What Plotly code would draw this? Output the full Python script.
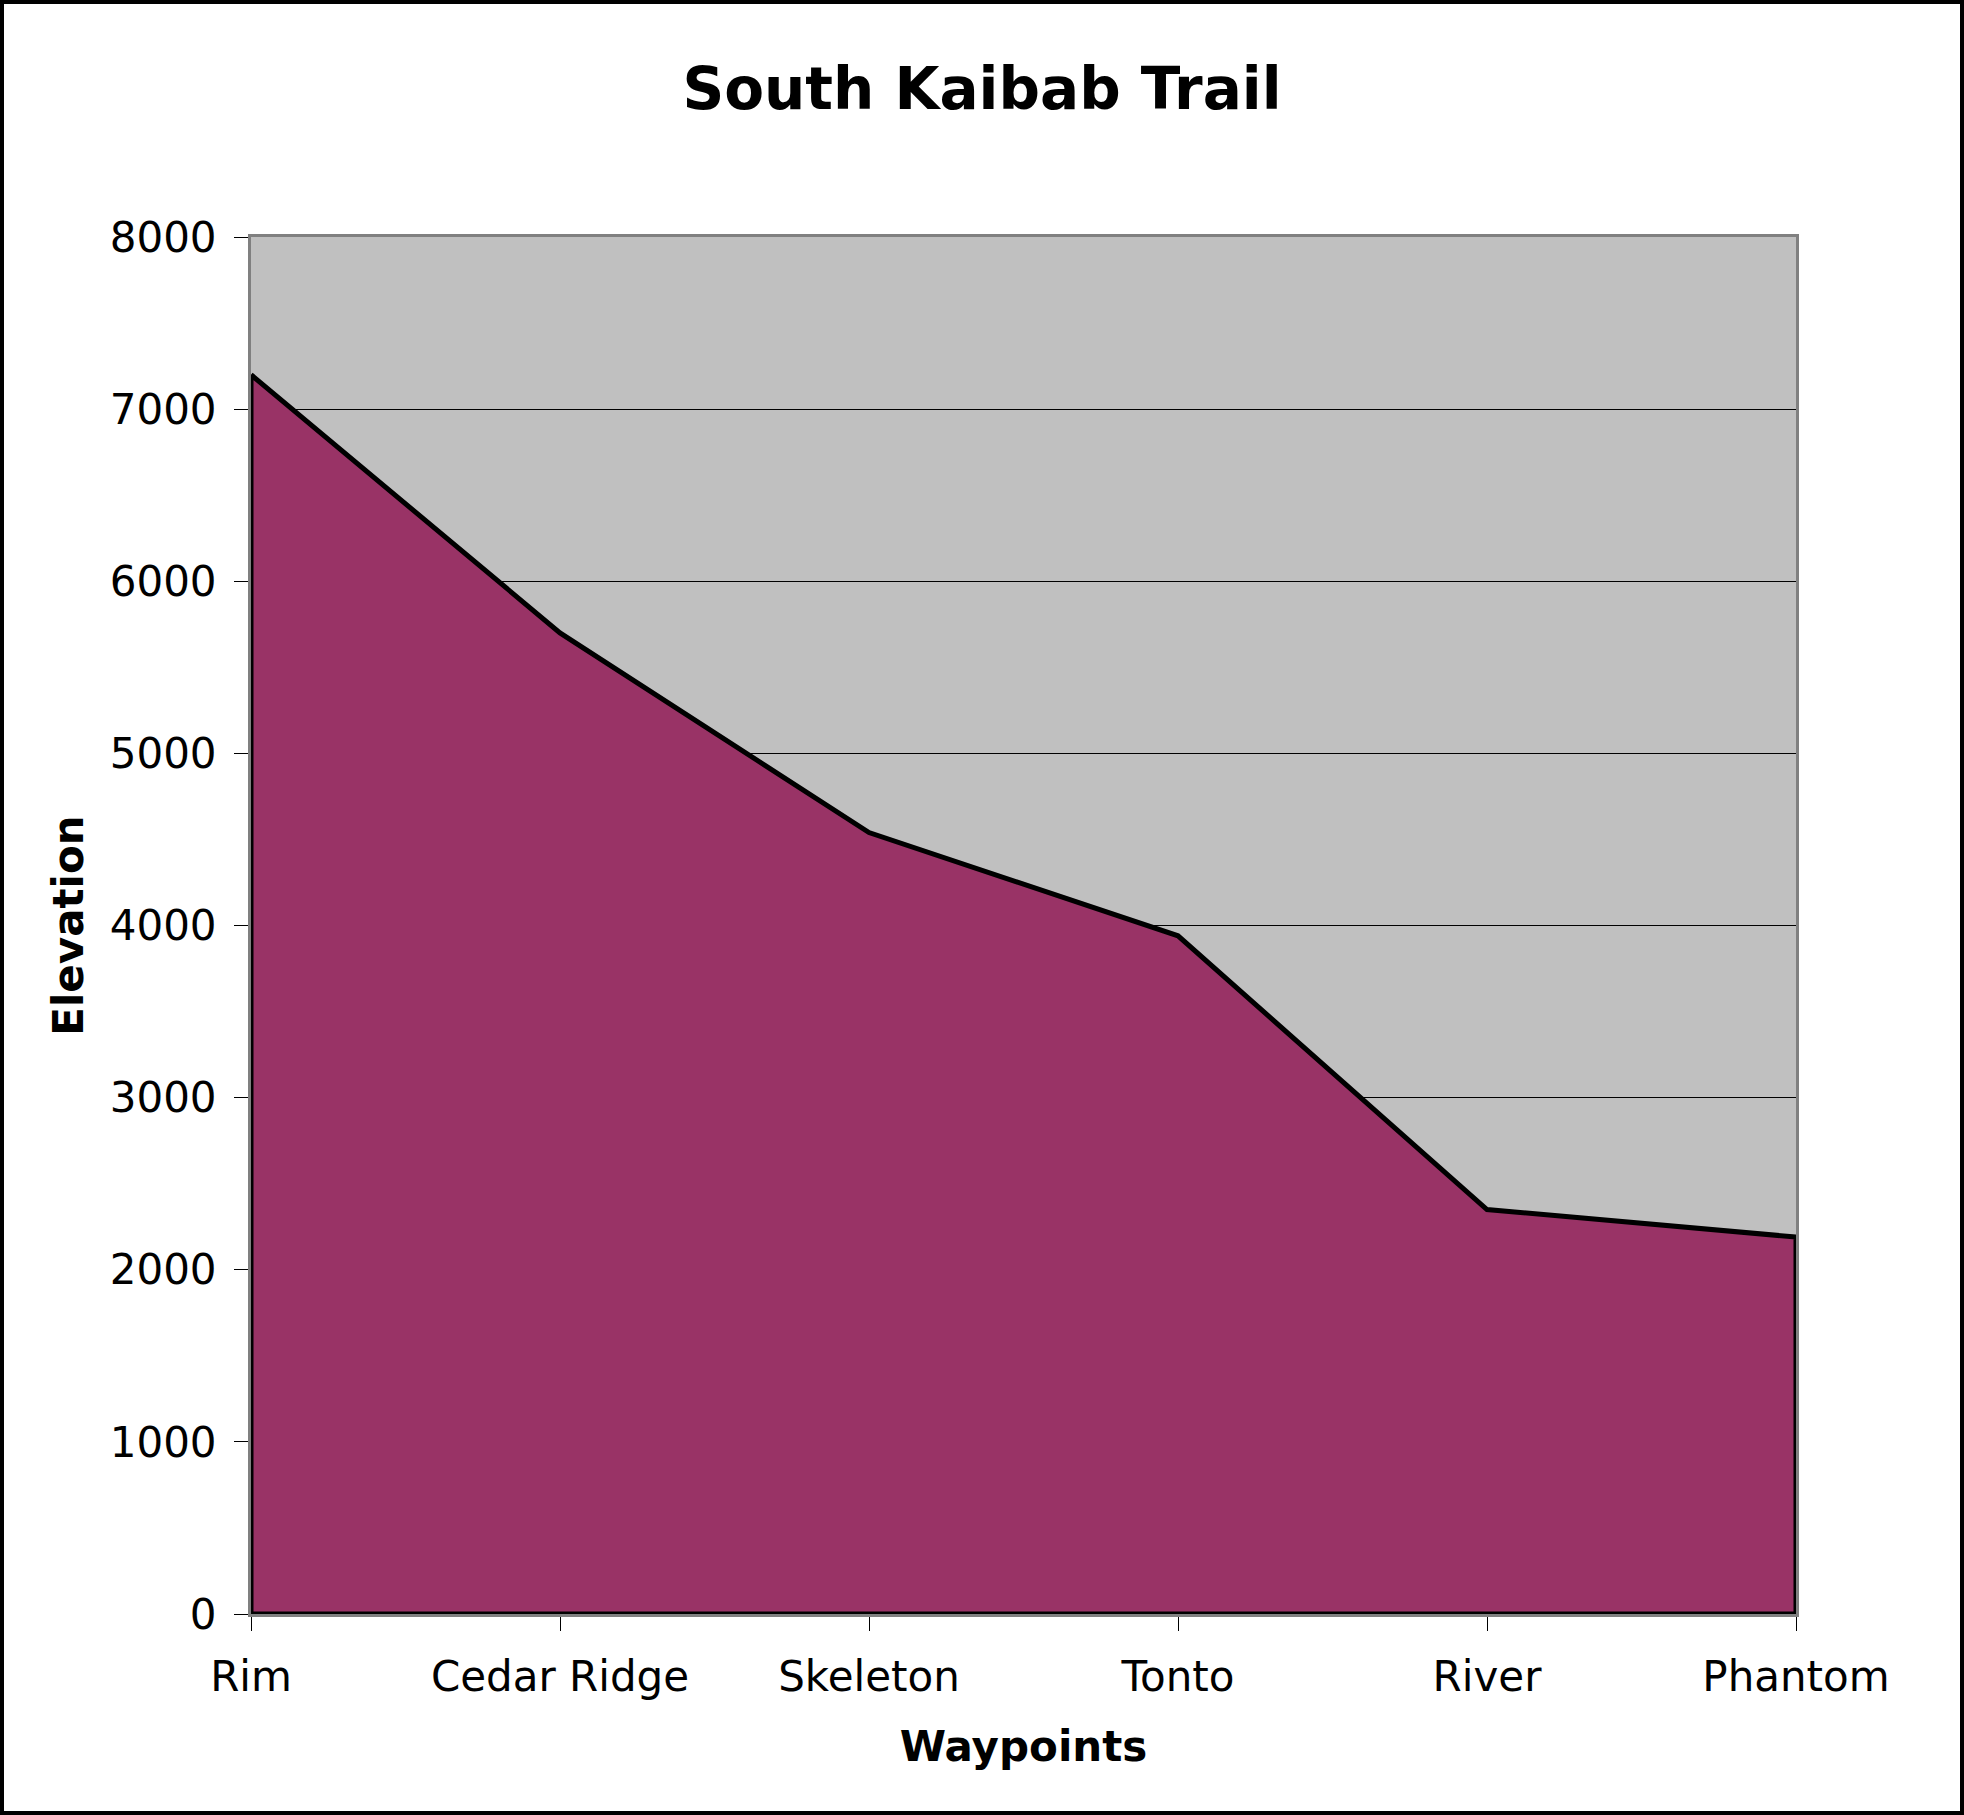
import plotly.graph_objects as go

# South Kaibab Trail elevations (ft)
waypoints = ["Rim", "Cedar Ridge", "Skeleton", "Tonto", "River", "Phantom"]
elevation = [7200, 5700, 4540, 3940, 2350, 2190]

W, H = 1964, 1815
L, R, T, B = 251, 168, 237, 201
pw, ph = W - L - R, H - T - B

# closed outline: along the profile, then back along zero
poly_x = waypoints + [waypoints[-1], waypoints[0], waypoints[0]]
poly_y = elevation + [0, 0, elevation[0]]

fig = go.Figure()
fig.add_trace(go.Scatter(
    x=poly_x, y=poly_y,
    mode="lines",
    fill="toself",
    fillcolor="#993366",
    line=dict(color="black", width=5),
    hoverinfo="skip",
    showlegend=False,
))

font = "DejaVu Sans"
fig.update_layout(
    width=W, height=H,
    margin=dict(l=L, r=R, t=T, b=B),
    paper_bgcolor="white",
    plot_bgcolor="#C0C0C0",
    font=dict(family=font, size=42, color="black"),
    title=dict(text="<b>South Kaibab Trail</b>", x=0.5, xanchor="center",
               y=1 - 89 / H, yref="container", yanchor="middle",
               font=dict(family=font, size=58, color="black")),
    showlegend=False,
)

fig.update_xaxes(
    type="category",
    categoryorder="array", categoryarray=waypoints,
    range=[0, len(waypoints) - 1],
    showgrid=False, zeroline=False,
    showline=True, linecolor="#808080", linewidth=3, mirror=True,
    ticks="outside", ticklen=14, tickwidth=1, tickcolor="black",
    tickfont=dict(size=42), ticklabelstandoff=10,
    title=dict(text="<b>Waypoints</b>", font=dict(size=42), standoff=32),
)
fig.update_yaxes(
    range=[0, 8000], dtick=1000, tick0=0,
    showgrid=True, gridcolor="black", gridwidth=1,
    zeroline=False,
    showline=True, linecolor="#808080", linewidth=3, mirror=True,
    ticks="outside", ticklen=14, tickwidth=1, tickcolor="black",
    tickfont=dict(size=42), ticklabelstandoff=9,
    title=dict(text="<b>Elevation</b>", font=dict(size=42), standoff=14),
)

# black frame around the whole picture
fig.add_shape(
    type="rect", xref="paper", yref="paper",
    x0=-(L - 2) / pw, x1=1 + (R - 2) / pw,
    y0=-(B - 2) / ph, y1=1 + (T - 2) / ph,
    line=dict(color="black", width=4),
    fillcolor="rgba(0,0,0,0)",
    layer="above",
)

fig.write_html("out.html", config={"displayModeBar": False},
               post_script="document.body.style.margin='0';")
